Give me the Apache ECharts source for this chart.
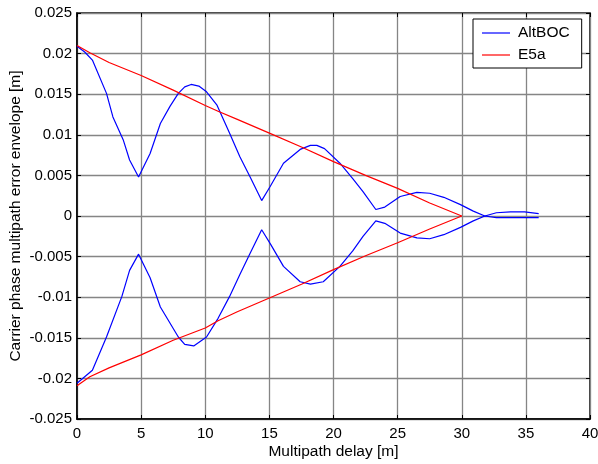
<!DOCTYPE html>
<html>
<head>
<meta charset="utf-8">
<script src="https://cdn.jsdelivr.net/npm/echarts@6/dist/echarts.min.js"></script>
<style>
  html, body { margin: 0; padding: 0; background: #fff; }
  #chart { width: 598px; height: 464px; }
</style>
</head>
<body>
<div id="chart"></div>
<script>
  // AltBOC envelope, upper branch
  var altUpX = [0, 0.6, 1.2, 2.3, 2.8, 3.6, 4.1, 4.8, 5.7, 6.5, 7.25, 7.9, 8.4, 8.9, 9.5, 10.1, 10.9, 11.9, 12.7, 13.5, 14.4, 15.05, 16.1, 17.4, 18.2, 18.7, 19.3, 20.5, 21.5, 22.3, 23.3, 24.0, 25.2, 26.5, 27.5, 28.6, 29.9, 30.9, 31.8, 32.7, 33.8, 34.9, 36.0]
  var altUpY = [0.0209, 0.0202, 0.0192, 0.0151, 0.0122, 0.0094, 0.0069, 0.0048, 0.0077, 0.0114, 0.0135, 0.0151, 0.0159, 0.0162, 0.0160, 0.0153, 0.0137, 0.0102, 0.0073, 0.0048, 0.0019, 0.0036, 0.0065, 0.0082, 0.0087, 0.0087, 0.0083, 0.0065, 0.0046, 0.0030, 0.0008, 0.0011, 0.0024, 0.0029, 0.0028, 0.0023, 0.0014, 0.0006, 0.0000, 0.0004, 0.0005, 0.0005, 0.0003]
  // AltBOC envelope, lower branch
  var altLoX = [0, 1.2, 2.3, 3.5, 4.1, 4.8, 5.7, 6.5, 7.9, 8.4, 9.1, 10.1, 11.0, 11.9, 12.7, 13.5, 14.4, 15.1, 16.1, 17.4, 18.2, 19.2, 20.5, 21.5, 22.3, 23.3, 24.0, 25.2, 26.5, 27.5, 28.6, 29.9, 30.9, 31.8, 32.7, 33.8, 34.9, 36.0]
  var altLoY = [-0.0206, -0.0190, -0.0149, -0.0099, -0.0067, -0.0047, -0.0076, -0.0112, -0.0149, -0.0158, -0.0160, -0.0149, -0.0126, -0.0099, -0.0072, -0.0046, -0.0017, -0.0035, -0.0062, -0.0081, -0.0084, -0.0081, -0.0062, -0.0043, -0.0025, -0.0006, -0.0009, -0.0021, -0.0027, -0.0028, -0.0023, -0.0014, -0.0006, 0.0000, -0.0002, -0.0002, -0.0002, -0.0002]
  // E5a envelope
  var e5aX = [0, 1, 2.5, 5, 7.5, 10, 11, 12.5, 15, 17.5, 20, 22.5, 25, 27.5, 30]
  var e5aUpY = [0.0210, 0.0201, 0.0189, 0.0173, 0.0155, 0.0136, 0.0129, 0.0119, 0.0102, 0.0085, 0.0067, 0.0050, 0.0034, 0.0016, 0]
  var e5aLoY = [-0.0209, -0.0198, -0.0187, -0.0171, -0.0153, -0.0138, -0.0129, -0.0118, -0.0101, -0.0084, -0.0066, -0.0049, -0.0033, -0.0016, 0]

  var font = 'Liberation Sans, Arial, Helvetica, sans-serif'
  var lineIcon = 'path://M0,0 L28,0 L28,1.2 L0,1.2 Z'

  function pairs(xs, ys) {
    return xs.map(function (x, i) { return [x, ys[i]] })
  }

  function lineSeries(name, color, xs, ys) {
    return {
      name: name,
      type: 'line',
      data: pairs(xs, ys),
      symbol: 'none',
      smooth: false,
      animation: false,
      lineStyle: { color: color, width: 1.2 },
      itemStyle: { color: color }
    }
  }

  var tickStyle = { show: true, inside: true, length: 4, lineStyle: { color: '#000' } }
  var gridLine = { show: true, lineStyle: { color: '#858585', width: 1.3 } }

  var chart = echarts.init(document.getElementById('chart'))
  chart.setOption({
    backgroundColor: '#fff',
    animation: false,
    textStyle: { fontFamily: font },
    grid: {
      left: 77, right: 8, top: 13, bottom: 45,
      outerBoundsMode: 'none', containLabel: false,
      show: true, borderColor: '#000', borderWidth: 1.5
    },
    legend: {
      data: [{ name: 'AltBOC', icon: lineIcon }, { name: 'E5a', icon: lineIcon }],
      left: 473,
      top: 19,
      orient: 'vertical',
      backgroundColor: '#fff',
      borderColor: '#000',
      borderWidth: 1,
      borderRadius: 0,
      padding: [6, 12, 5, 9],
      itemWidth: 28,
      itemHeight: 14,
      itemGap: 6,
      textStyle: { fontSize: 15.5, color: '#000', fontFamily: font, padding: [0, 0, 0, 3] }
    },
    xAxis: [{
      type: 'value',
      min: 0, max: 40, interval: 5,
      name: 'Multipath delay [m]',
      nameLocation: 'middle',
      nameGap: 25,
      nameMoveOverlap: false,
      nameTextStyle: { fontSize: 15.5, color: '#000', fontFamily: font },
      axisLine: { show: true, onZero: false, lineStyle: { color: '#000', width: 1.5 } },
      axisTick: tickStyle,
      axisLabel: { fontSize: 15, color: '#000', margin: 7, fontFamily: font },
      splitLine: gridLine
    }, {
      type: 'value', position: 'top',
      min: 0, max: 40, interval: 5,
      axisLine: { show: false, onZero: false }, axisTick: tickStyle,
      axisLabel: { show: false }, splitLine: { show: false }
    }],
    yAxis: [{
      type: 'value',
      min: -0.025, max: 0.025, interval: 0.005,
      name: 'Carrier phase multipath error envelope [m]',
      nameLocation: 'middle',
      nameGap: 53,
      nameMoveOverlap: false,
      nameTextStyle: { fontSize: 15.5, color: '#000', fontFamily: font },
      axisLine: { show: true, onZero: false, lineStyle: { color: '#000', width: 1.5 } },
      axisTick: tickStyle,
      axisLabel: {
        fontSize: 15, color: '#000', margin: 5, fontFamily: font,
        formatter: function (v) { return String(+v.toFixed(3)) }
      },
      splitLine: gridLine
    }, {
      type: 'value', position: 'right',
      min: -0.025, max: 0.025, interval: 0.005,
      axisLine: { show: false, onZero: false }, axisTick: tickStyle,
      axisLabel: { show: false }, splitLine: { show: false }
    }],
    series: [
      lineSeries('AltBOC', '#0000ff', altUpX, altUpY),
      lineSeries('AltBOC', '#0000ff', altLoX, altLoY),
      lineSeries('E5a', '#ff0000', e5aX, e5aUpY),
      lineSeries('E5a', '#ff0000', e5aX, e5aLoY)
    ]
  })
</script>
</body>
</html>
